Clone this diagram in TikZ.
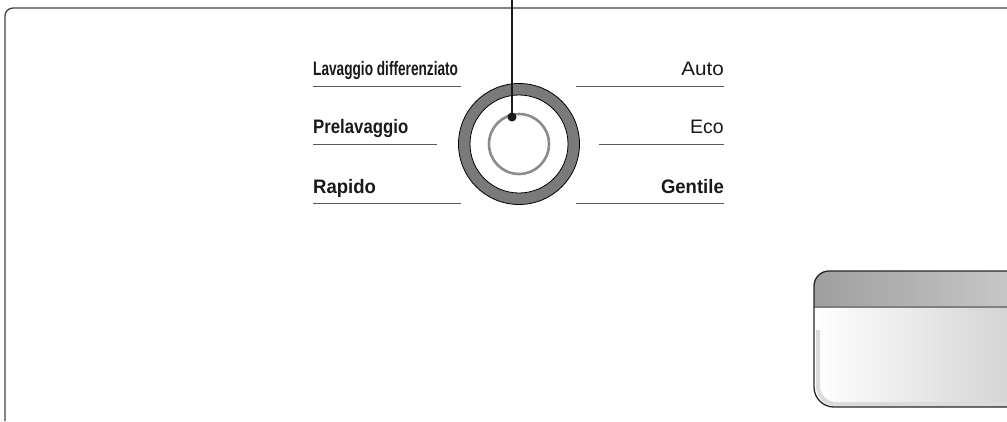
\documentclass[tikz,border=0pt]{standalone}
\usepackage{fontspec}
\setmainfont{Liberation Sans}
\begin{document}
\begin{tikzpicture}[x=1pt,y=-1pt]

		\tikzstyle{label}=[inner sep=0pt,font=\fontsize{19.5}{20}\selectfont,text=black!90]
		\tikzstyle{rule}=[black!65,line width=1pt]
		\tikzstyle{frame}=[black!75,line width=1.3pt]

		\useasboundingbox (0,0) rectangle (1007,421);

		% outer panel border
		\draw[frame,rounded corners=8pt] (5,421) -- (5,8) -- (1010,8);

		% program labels
		\node[label,anchor=base west]	(lavaggio)	at (313,75)	{\scalebox{0.70}[1]{\textbf{Lavaggio differenziato}}};
		\node[label,anchor=base west]	(prelav)	at (313,133)	{\scalebox{0.86}[1]{\textbf{Prelavaggio}}};
		\node[label,anchor=base west]	(rapido)	at (313,193)	{\scalebox{0.95}[1]{\textbf{Rapido}}};
		\node[label,anchor=base east]	(auto)	at (724,75)	{\scalebox{1.06}[1]{Auto}};
		\node[label,anchor=base east]	(eco)	at (724,133)	{Eco};
		\node[label,anchor=base east]	(gentile)	at (724,193)	{\scalebox{0.95}[1]{\textbf{Gentile}}};

		\draw[rule] (313,86) -- (461,86);
		\draw[rule] (313,144) -- (437,144);
		\draw[rule] (313,203) -- (461,203);
		\draw[rule] (576,86) -- (724,86);
		\draw[rule] (599,144) -- (724,144);
		\draw[rule] (576,203) -- (724,203);

		% selector knob
		\node[circle,draw=black,line width=0.8pt,fill=black!52,minimum size=121pt,inner sep=0pt]	(knob)	at (519,144)	{};
		\node[circle,draw=black,line width=0.8pt,fill=white,minimum size=98pt,inner sep=0pt]	(knobface)	at (519,144)	{};
		\node[circle,draw=black!45,line width=2.6pt,minimum size=60pt,inner sep=0pt]	(knobcap)	at (519,144)	{};

		% pointer
		\coordinate (ptrtop) at (512,0);
		\node[circle,fill=black!90,inner sep=0pt,minimum size=9pt]	(dot)	at (512,117)	{};
		\draw[black!90,line width=1.3pt] (ptrtop) -- (dot.center);

		% display window
		\begin{scope}
			\clip (1010,271) -- (829,271) arc[start angle=270,end angle=180,radius=15] -- (814,387) arc[start angle=180,end angle=90,radius=20] -- (1010,407) -- cycle;
			\shade[left color=white,right color=black!17] (814,271) rectangle (1010,407);
			\shade[left color=black!38,right color=black!22] (814,271) rectangle (1010,307);
			\draw[black!50,line width=1.4pt] (814,307) -- (1010,307);
			\draw[black!14,line width=4pt] (1010,404) -- (836,404) arc[start angle=90,end angle=180,radius=18] -- (818,330);
		\end{scope}
		\draw[black!85,line width=1.3pt] (1010,271) -- (829,271) arc[start angle=270,end angle=180,radius=15] -- (814,387) arc[start angle=180,end angle=90,radius=20] -- (1010,407);

	\end{tikzpicture}
\end{document}
